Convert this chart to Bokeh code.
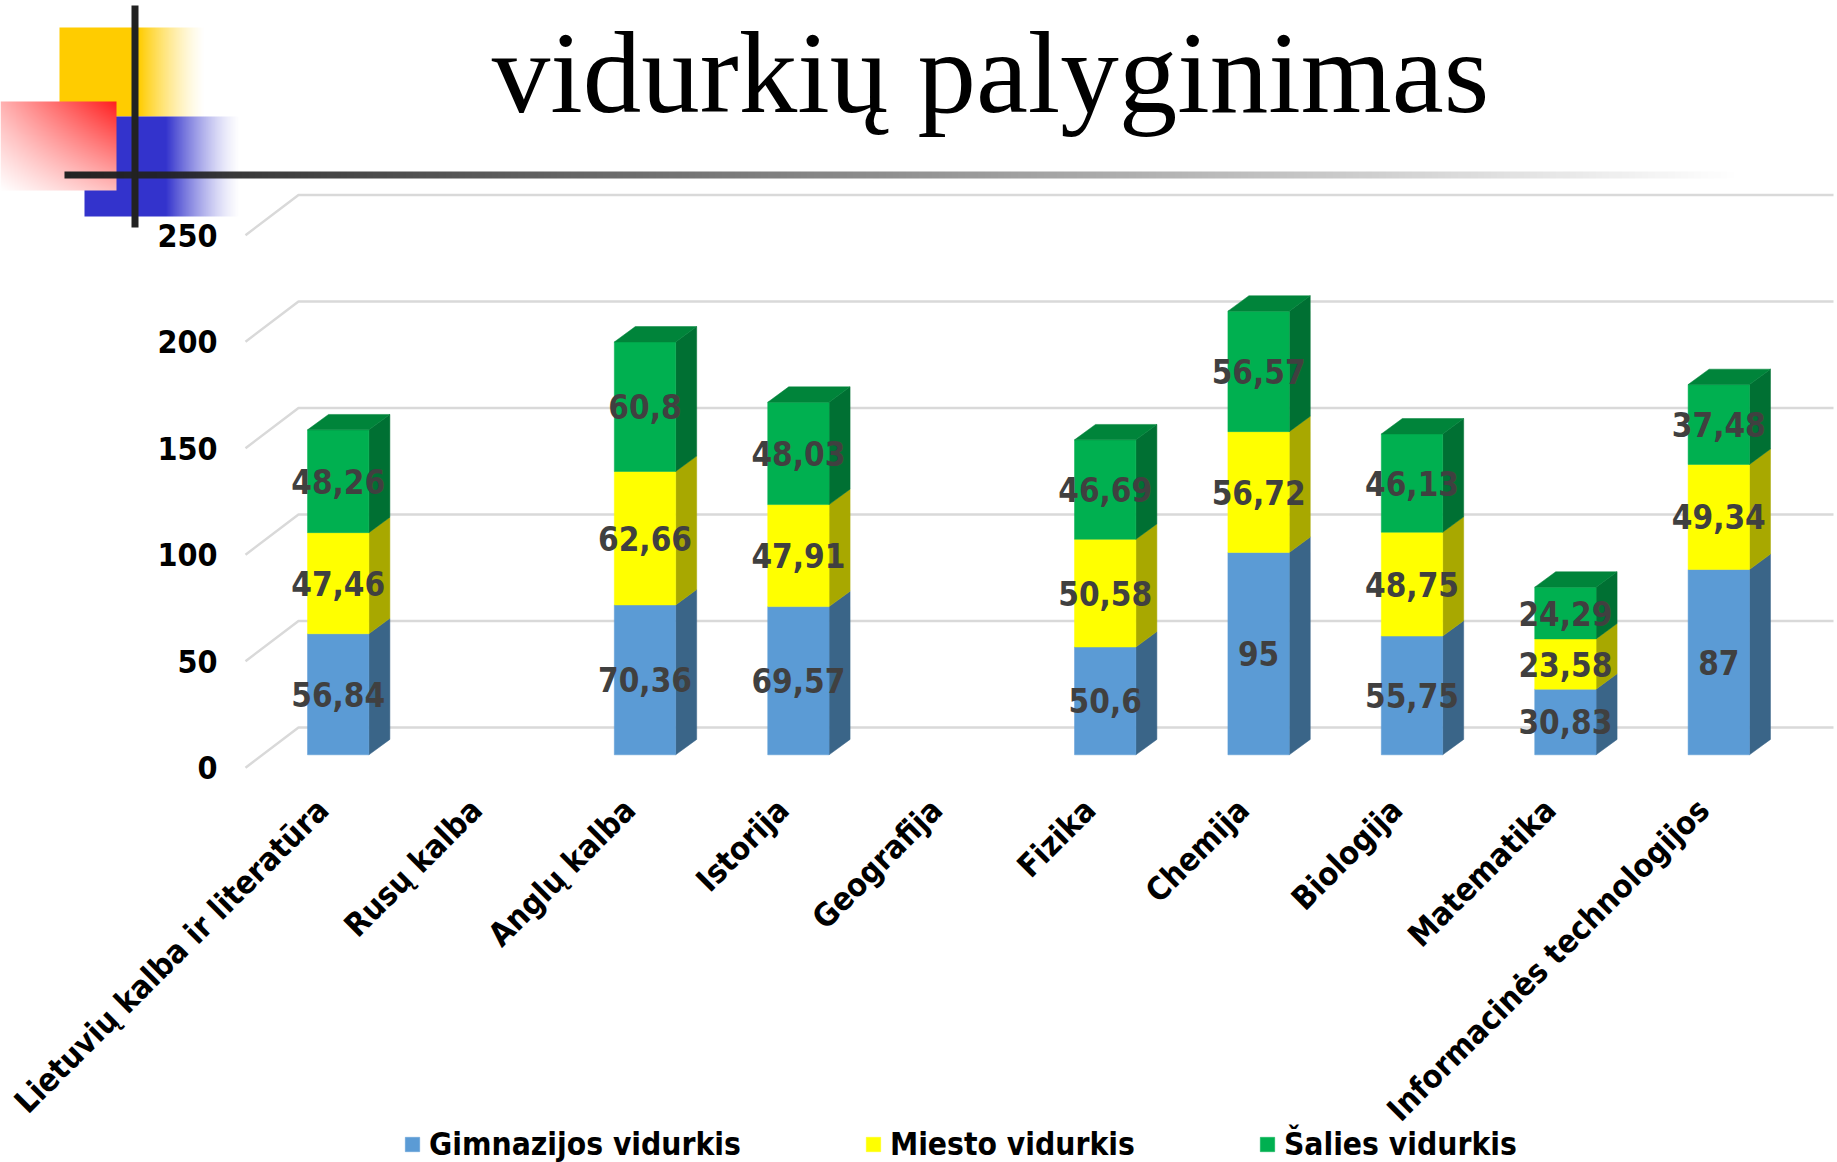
import numpy as np
from bokeh.plotting import figure
from bokeh.models import (Range1d, LinearAxis, FixedTicker, Label, Legend, LegendItem, ColumnDataSource)
from bokeh.core.properties import value
from bokeh.embed import file_html
from bokeh.resources import INLINE

categories = ["Lietuvių kalba ir literatūra", "Rusų kalba", "Anglų kalba", "Istorija", "Geografija",
              "Fizika", "Chemija", "Biologija", "Matematika", "Informacinės technologijos"]
gimnazijos = [56.84, None, 70.36, 69.57, None, 50.6, 95, 55.75, 30.83, 87]
miesto = [47.46, None, 62.66, 47.91, None, 50.58, 56.72, 48.75, 23.58, 49.34]
salies = [48.26, None, 60.8, 48.03, None, 46.69, 56.57, 46.13, 24.29, 37.48]
series_names = ["Gimnazijos vidurkis", "Miesto vidurkis", "Šalies vidurkis"]
y_ticks = [0, 50, 100, 150, 200, 250]
title_text = "vidurkių palyginimas"

FRONT = ["#5b9bd5", "#ffff00", "#00b050"]
SIDE = ["#3a6588", "#a8a800", "#007033"]
TOP = "#00843a"
GRID = "#d9d9d9"
FONT = "DejaVu Sans Condensed"

W, H = 1837, 1162
PAGE_L, PAGE_T = 0, 0
PX_PER_CAT = 153.4
PX_PER_VAL = 2.13
CAT0_X = 337.7
BASE_Y = 754.3
BAR_W = 0.4
DEPTH_X = 21 / PX_PER_CAT
DEPTH_Y = 15.4 / PX_PER_VAL
WALL_FRONT = -12.9 / PX_PER_VAL
WALL_BACK = 27.3 / PX_PER_VAL
GRID_L = (245 - CAT0_X) / PX_PER_CAT
GRID_B = (298 - CAT0_X) / PX_PER_CAT
GRID_R = (1833 - CAT0_X) / PX_PER_CAT
LABEL_SHIFT = 15.2 / PX_PER_CAT

x0 = (PAGE_L - CAT0_X) / PX_PER_CAT
x1 = (PAGE_L + W - CAT0_X) / PX_PER_CAT
y1 = (BASE_Y - PAGE_T) / PX_PER_VAL
y0 = (BASE_Y - PAGE_T - H) / PX_PER_VAL

p = figure(width=W, height=H, x_range=Range1d(x0, x1), y_range=Range1d(y0, y1),
           output_backend="svg", toolbar_location=None, x_axis_location=None, y_axis_location=None,
           min_border=0, outline_line_color=None, background_fill_color="white", border_fill_color="white")
p.grid.visible = False
p.extra_x_ranges = {"px": Range1d(PAGE_L, PAGE_L + W), "labels": Range1d(x0 + LABEL_SHIFT, x1 + LABEL_SHIFT)}
p.extra_y_ranges = {"px": Range1d(-(PAGE_T + H), -PAGE_T), "wall": Range1d(y0 - WALL_FRONT, y1 - WALL_FRONT)}

# gridlines of the 3D wall
for t in y_ticks:
    p.line([GRID_L, GRID_B, GRID_R], [t + WALL_FRONT, t + WALL_BACK, t + WALL_BACK], line_color=GRID, line_width=2.5)

# stacked bars
idx = [i for i, v in enumerate(gimnazijos) if v is not None]
series = [gimnazijos, miesto, salies]
bottom = {i: 0.0 for i in idx}
renderers = []
for s, vals in enumerate(series):
    xs_l = [i - BAR_W / 2 for i in idx]
    xs_r = [i + BAR_W / 2 for i in idx]
    bots = [bottom[i] for i in idx]
    tops = [bottom[i] + vals[i] for i in idx]
    side_x = [[r, r + DEPTH_X, r + DEPTH_X, r] for r in xs_r]
    side_y = [[b, b + DEPTH_Y, t + DEPTH_Y, t] for b, t in zip(bots, tops)]
    p.patches(side_x, side_y, fill_color=SIDE[s], line_color=SIDE[s], line_width=0.5)
    r = p.quad(left=xs_l, right=xs_r, bottom=bots, top=tops, fill_color=FRONT[s], line_color=FRONT[s], line_width=0.5)
    renderers.append(r)
    if s == 2:
        top_x = [[l, r2, r2 + DEPTH_X, l + DEPTH_X] for l, r2 in zip(xs_l, xs_r)]
        top_y = [[t, t, t + DEPTH_Y, t + DEPTH_Y] for t in tops]
        p.patches(top_x, top_y, fill_color=TOP, line_color=TOP, line_width=0.5)
    for i in idx:
        bottom[i] += vals[i]

# data labels
for s, vals in enumerate(series):
    cum = [sum(series[k][i] for k in range(s)) for i in idx]
    src = ColumnDataSource(dict(
        x=idx,
        y=[c + vals[i] / 2 for c, i in zip(cum, idx)],
        t=[f"{vals[i]:g}".replace(".", ",") for i in idx]))
    p.text("x", "y", text="t", source=src, text_font=value(FONT), text_font_style="bold",
           text_font_size="33px", text_color="#404040", text_align="center", text_baseline="middle")

# axes
yax = LinearAxis(y_range_name="wall", ticker=FixedTicker(ticks=y_ticks), fixed_location=(223 - CAT0_X) / PX_PER_CAT,
                 axis_line_color=None, major_tick_line_color=None, minor_tick_line_color=None,
                 major_label_standoff=0, major_label_text_font=FONT, major_label_text_font_style="bold",
                 major_label_text_font_size="32px", major_label_text_color="#000000")
p.add_layout(yax, "left")
xax = LinearAxis(x_range_name="labels", ticker=FixedTicker(ticks=list(range(len(categories)))),
                 major_label_overrides={i: c for i, c in enumerate(categories)},
                 fixed_location=(BASE_Y - 798) / PX_PER_VAL, major_label_orientation=np.pi / 4,
                 axis_line_color=None, major_tick_line_color=None, minor_tick_line_color=None,
                 major_label_standoff=0, major_label_text_font=FONT, major_label_text_font_style="bold",
                 major_label_text_font_size="32px", major_label_text_color="#000000")
p.add_layout(xax, "below")


def hgrad(rgb, x_l, x_solid, x_r, y_t, y_b, power=1.0):
    """Horizontal fade-to-white decoration."""
    n = int(x_r - x_l)
    xx = np.arange(n) + x_l
    a = np.clip((x_r - xx) / (x_r - x_solid), 0, 1) ** power
    im = np.zeros((1, n), dtype=np.uint32)
    view = im.view(np.uint8).reshape(1, n, 4)
    view[0, :, 0], view[0, :, 1], view[0, :, 2] = rgb
    view[0, :, 3] = (a * 255).astype(np.uint8)
    p.image_rgba(image=[im], x=x_l, y=-y_b, dw=x_r - x_l, dh=y_b - y_t, x_range_name="px", y_range_name="px")


hgrad((255, 204, 0), 59, 138, 205, 27, 116, 1.4)
hgrad((51, 51, 204), 84, 165, 240, 116, 216, 1.4)

# red diagonal fade, opaque over white
nx, ny = 116, 89
im = np.zeros((ny, nx), dtype=np.uint32)
view = im.view(np.uint8).reshape(ny, nx, 4)
gx = np.linspace(1, 0, nx)[None, :]
gy = np.linspace(1, 0, ny)[:, None]
alpha = np.clip((1 - gx * 0.65) * (1 - gy * 0.7) - 0.105 * gx * gy, 0, 1)
view[..., 0] = 255
view[..., 1] = (255 - alpha * (255 - 32)).astype(np.uint8)
view[..., 2] = (255 - alpha * (255 - 32)).astype(np.uint8)
view[..., 3] = 255
p.image_rgba(image=[im], x=0, y=-190, dw=116, dh=89, x_range_name="px", y_range_name="px")

p.quad(left=[131], right=[138], top=[-5], bottom=[-227], fill_color="#222222", line_color=None,
       x_range_name="px", y_range_name="px")
hgrad((34, 34, 34), 64, 64, 1740, 171, 178)

p.add_layout(Label(x=990, y=-72, x_range_name="px", y_range_name="px", text=title_text,
                   text_font="Liberation Serif", text_font_size="117px", text_color="#000000",
                   text_align="center", text_baseline="alphabetic"))

legend = Legend(items=[LegendItem(label=n, renderers=[r]) for n, r in zip(series_names, renderers)],
                orientation="horizontal", location=(403, 0), spacing=123, padding=0, margin=0,
                glyph_width=18, glyph_height=18, label_standoff=8,
                label_text_font=FONT, label_text_font_style="bold", label_text_font_size="31.5px",
                label_text_color="#000000", border_line_color=None, background_fill_alpha=0)
p.add_layout(legend, "center")

open("out.html", "w").write(file_html(p, INLINE))
